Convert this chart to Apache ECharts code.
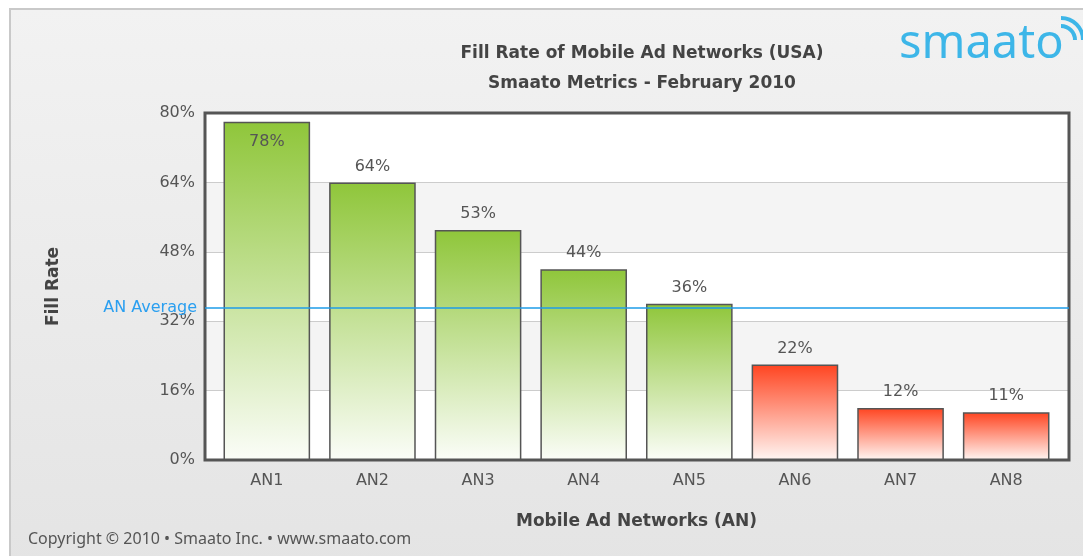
<!DOCTYPE html>
<html>
<head>
<meta charset="utf-8">
<script src="https://cdn.jsdelivr.net/npm/echarts@6/dist/echarts.min.js"></script>
<style>
  html, body { margin: 0; padding: 0; background: #fff; }
  #chart { width: 1083px; height: 556px; }
</style>
</head>
<body>
<div id="chart"></div>
<script>
// data
var networks = ['AN1', 'AN2', 'AN3', 'AN4', 'AN5', 'AN6', 'AN7', 'AN8'];
var fillRates = [78, 64, 53, 44, 36, 22, 12, 11];
var anAverage = 35;
var yTicks = [0, 16, 32, 48, 64, 80];

var myChart = echarts.init(document.getElementById('chart'));

function barGradient(top, bottom) {
    return new echarts.graphic.LinearGradient(0, 0, 0, 1, [
        {offset: 0, color: top},
        {offset: 1, color: bottom}
    ]);
}

// green above the network average, red below it
var barData = fillRates.map(function (v, i) {
    var above = v >= anAverage;
    return {
        value: v,
        itemStyle: {
            color: above ? barGradient('#8fc63a', '#fbfdf8') : barGradient('#ff4420', '#fff6f3')
        },
        label: {
            position: i === 0 ? 'insideTop' : 'top',
            distance: i === 0 ? 12 : 8
        }
    };
});

var textFont = 'DejaVu Sans';

var option = {
    backgroundColor: '#ffffff',
    animation: false,
    graphic: [
        {
            type: 'rect',
            z: -10,
            shape: {x: 10, y: 9, width: 1090, height: 560},
            style: {
                fill: new echarts.graphic.LinearGradient(0, 0, 0, 1, [
                    {offset: 0, color: '#f2f2f2'},
                    {offset: 1, color: '#e4e4e4'}
                ]),
                stroke: '#c9c9c9',
                lineWidth: 2
            }
        },
        {
            type: 'text',
            left: 899,
            top: 21,
            style: {
                text: 'smaato',
                fill: '#3db6e8',
                font: '47px "Noto Sans"'
            }
        },
        {
            type: 'arc',
            shape: {cx: 1061, cy: 40, r: 14, startAngle: -Math.PI / 2, endAngle: 0},
            style: {stroke: '#3db6e8', lineWidth: 4, fill: null}
        },
        {
            type: 'arc',
            shape: {cx: 1061, cy: 40, r: 22, startAngle: -Math.PI / 2, endAngle: 0},
            style: {stroke: '#3db6e8', lineWidth: 4, fill: null}
        },
        {
            type: 'text',
            left: 28,
            top: 531,
            style: {
                text: 'Copyright © 2010 • Smaato Inc. • www.smaato.com',
                fill: '#555',
                font: '16px "Noto Sans"'
            }
        }
    ],
    title: {
        text: 'Fill Rate of Mobile Ad Networks (USA)\nSmaato Metrics - February 2010',
        left: 637,
        top: 34,
        textAlign: 'center',
        textStyle: {
            color: '#444',
            fontFamily: textFont,
            fontWeight: 'bold',
            fontSize: 17,
            lineHeight: 30
        }
    },
    grid: [
        // frame + bands
        {left: 205, right: 14, top: 113, bottom: 96, show: true, borderColor: '#555', borderWidth: 3, z: 1},
        // bars
        {left: 214, right: 24, top: 113, bottom: 96}
    ],
    xAxis: [
        {type: 'value', gridIndex: 0, show: false, min: 0, max: 1},
        {
            type: 'category',
            gridIndex: 1,
            data: networks,
            axisLine: {show: false},
            axisTick: {show: false},
            axisLabel: {color: '#555', fontFamily: textFont, fontSize: 16, margin: 13},
            name: 'Mobile Ad Networks (AN)',
            nameLocation: 'middle',
            nameGap: 53,
            nameTextStyle: {color: '#444', fontFamily: textFont, fontWeight: 'bold', fontSize: 17}
        }
    ],
    yAxis: [
        {
            type: 'value',
            gridIndex: 0,
            min: yTicks[0],
            max: yTicks[yTicks.length - 1],
            interval: yTicks[1] - yTicks[0],
            axisLine: {show: false},
            axisTick: {show: false},
            axisLabel: {formatter: '{value}%', color: '#555', fontFamily: textFont, fontSize: 16, margin: 10},
            splitLine: {lineStyle: {color: '#cccccc', width: 1}},
            splitArea: {show: true, areaStyle: {color: ['#ffffff', '#f4f4f4']}},
            name: 'Fill Rate',
            nameLocation: 'middle',
            nameGap: 143,
            nameRotate: 90,
            nameTextStyle: {color: '#444', fontFamily: textFont, fontWeight: 'bold', fontSize: 17}
        },
        {
            type: 'value',
            gridIndex: 1,
            min: yTicks[0],
            max: yTicks[yTicks.length - 1],
            show: false
        }
    ],
    series: [
        {
            type: 'bar',
            xAxisIndex: 1,
            yAxisIndex: 1,
            barWidth: '82%',
            data: barData,
            z: 3,
            itemStyle: {borderColor: '#555', borderWidth: 1.5},
            label: {
                show: true,
                formatter: '{c}%',
                color: '#555',
                fontFamily: textFont,
                fontSize: 16
            }
        },
        {
            type: 'line',
            xAxisIndex: 0,
            yAxisIndex: 0,
            data: [],
            z: 5,
            markLine: {
                silent: true,
                symbol: 'none',
                lineStyle: {color: '#1e9de8', width: 1.5, type: 'solid'},
                label: {
                    position: 'start',
                    distance: 8,
                    formatter: 'AN Average',
                    color: '#2a9ff0',
                    fontFamily: textFont,
                    fontSize: 16
                },
                data: [{yAxis: anAverage}]
            }
        }
    ]
};

myChart.setOption(option);
</script>
</body>
</html>
